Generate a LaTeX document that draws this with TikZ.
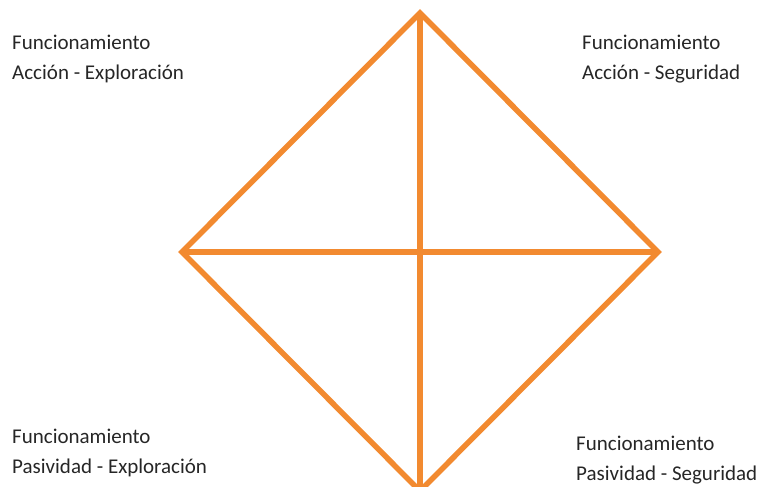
\documentclass[tikz,border=0pt]{standalone}
\usepackage{fontspec}
\setmainfont{Carlito}
\definecolor{diaorange}{HTML}{F28A30}
\definecolor{labelgray}{HTML}{262626}
\begin{document}
\begin{tikzpicture}[x=1pt,y=-1pt,
  edge/.style={draw=diaorange,line width=5.5pt,line join=miter,line cap=butt},
  lbl/.style={anchor=base west,inner sep=0pt,align=left,text=labelgray,
    font=\fontsize{21}{30}\selectfont}]
\useasboundingbox (0,0) rectangle (758,487);
\coordinate (top) at (420,13);
\coordinate (left) at (182,252);
\coordinate (right) at (658,252);
\coordinate (bottom) at (420,491);
\draw[edge] (top) -- (right) -- (bottom) -- (left) -- cycle;
\draw[edge] (top) -- (bottom);
\draw[edge] (left) -- (right);
\node[lbl] (tl) at (12,80) {Funcionamiento\\Acción - Exploración};
\node[lbl] (tr) at (582,80) {Funcionamiento\\Acción - Seguridad};
\node[lbl] (bl) at (12,473) {Funcionamiento\\Pasividad - Exploración};
\node[lbl] (br) at (576,480) {Funcionamiento\\Pasividad - Seguridad};
\end{tikzpicture}
\end{document}
